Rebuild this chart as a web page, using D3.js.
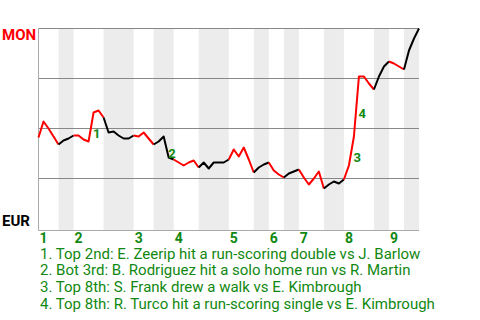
<!DOCTYPE html>
<html>
<head>
<meta charset="utf-8">
<script src="https://cdn.jsdelivr.net/npm/d3@7"></script>
<style>
  body { margin: 0; background: #fff; }
  svg { display: block; font-family: Roboto, "DejaVu Sans", sans-serif; }
</style>
</head>
<body>
<svg class="wp-chart"></svg>
<script>
// MON win probability after each play (percent), play 0 = first pitch
var winProb = [45.5, 53.5, 50, 46, 42, 44, 45, 46.5, 46.5, 44.5, 43.5, 58, 59, 55.5, 48,
  48.5, 46.5, 45, 45, 46.5, 46, 48, 45, 42, 43.5, 46, 35.5, 34.5, 33, 31.5, 33, 34,
  30.5, 33, 30, 33, 33, 33, 34.5, 39.5, 36, 40.5, 34.5, 28, 30.5, 32, 33, 29, 27,
  25.5, 27.5, 28.5, 29.5, 25.5, 22, 25, 28.5, 20, 22, 23.5, 22.5, 24.5, 31.5, 46,
  76, 76, 72.5, 69.5, 76, 81, 83.5, 82.5, 81, 79.5, 89, 95, 100];

// plays per half inning: top 1st, bot 1st, top 2nd ...
var halfInningPlays = [4, 3, 6, 6, 4, 4, 5, 6, 5, 3, 3, 3, 5, 4, 6, 3, 3, 3];
var inningLabels = ["1", "2", "3", "4", "5", "6", "7", "8", "9"];
var gridValues = [75, 50, 25];

var teamTop = "MON", teamBottom = "EUR";
var eventPlays = [11, 26, 63, 64];
var eventLabels = ["1", "2", "3", "4"];
var eventTexts = [
  "1. Top 2nd: E. Zeerip hit a run-scoring double vs J. Barlow",
  "2. Bot 3rd: B. Rodriguez hit a solo home run vs R. Martin",
  "3. Top 8th: S. Frank drew a walk vs E. Kimbrough",
  "4. Top 8th: R. Turco hit a run-scoring single vs E. Kimbrough"
];

var width = 480, height = 320;
var green = "#118811";

var svg = d3.select(".wp-chart")
  .attr("width", width)
  .attr("height", height);

var xScale = d3.scaleLinear().domain([0, winProb.length - 1]).range([38.5, 419]);
var yScale = d3.scaleLinear().domain([0, 100]).range([228.5, 28.5]);
var axisY = yScale(0) + 2;

// half inning start/end in play index
var halves = [];
var pos = 0;
halfInningPlays.forEach(function(n, i) {
  halves.push({ start: pos, end: pos + n, top: i % 2 == 0, inning: Math.floor(i / 2) });
  pos += n;
});

// shaded bottom halves
svg.selectAll(".band")
  .data(halves.filter(function(d) { return !d.top; }))
  .enter()
  .append("rect")
  .classed("band", true)
  .attr("x", function(d) { return xScale(d.start); })
  .attr("y", yScale(100))
  .attr("width", function(d) { return xScale(d.end) - xScale(d.start); })
  .attr("height", axisY - yScale(100))
  .style("fill", "#ececec");

// horizontal lines
svg.selectAll(".grid")
  .data([100].concat(gridValues))
  .enter()
  .append("line")
  .classed("grid", true)
  .attr("x1", xScale(0))
  .attr("x2", xScale.range()[1])
  .attr("y1", function(d) { return yScale(d); })
  .attr("y2", function(d) { return yScale(d); })
  .style("stroke", "#888")
  .style("stroke-width", 1);

svg.append("line")
  .attr("x1", xScale(0)).attr("x2", xScale.range()[1])
  .attr("y1", axisY).attr("y2", axisY)
  .style("stroke", "#aaa");

svg.append("line")
  .attr("x1", xScale(0)).attr("x2", xScale(0))
  .attr("y1", yScale(100)).attr("y2", axisY)
  .style("stroke", "#aaa");

// line, one path per half inning
var line = d3.line()
  .x(function(d) { return xScale(d.i); })
  .y(function(d) { return yScale(d.v); });

svg.selectAll(".wp-line")
  .data(halves)
  .enter()
  .append("path")
  .classed("wp-line", true)
  .attr("d", function(h) {
    var pts = [];
    for (var i = h.start; i <= h.end; i++) pts.push({ i: i, v: winProb[i] });
    return line(pts);
  })
  .style("fill", "none")
  .style("stroke", function(h) { return h.top ? "#ff0000" : "#000"; })
  .style("stroke-width", 2)
  .style("stroke-linejoin", "round");

// team labels
svg.append("text")
  .text(teamTop)
  .attr("x", 2).attr("y", 40)
  .style("font-size", "15px").style("font-weight", "bold")
  .style("fill", "#ff0000");

svg.append("text")
  .text(teamBottom)
  .attr("x", 2).attr("y", 226)
  .style("font-size", "15px").style("font-weight", "bold")
  .style("fill", "#000");

// inning numbers
svg.selectAll(".inning-label")
  .data(halves.filter(function(d) { return d.top; }))
  .enter()
  .append("text")
  .classed("inning-label", true)
  .text(function(d) { return inningLabels[d.inning]; })
  .attr("x", function(d) { return xScale(d.start) + 1; })
  .attr("y", 242.5)
  .style("font-size", "14px").style("font-weight", "bold")
  .style("fill", green);

// event markers at middle of the play's segment
svg.selectAll(".event-label")
  .data(eventPlays)
  .enter()
  .append("text")
  .classed("event-label", true)
  .text(function(d, i) { return eventLabels[i]; })
  .attr("x", function(d) { return (xScale(d) + xScale(d - 1)) / 2 + 2; })
  .attr("y", function(d) { return (yScale(winProb[d]) + yScale(winProb[d - 1])) / 2 + 11; })
  .style("font-size", "13px").style("font-weight", "bold")
  .style("fill", green);

// event descriptions
svg.selectAll(".event-text")
  .data(eventTexts)
  .enter()
  .append("text")
  .classed("event-text", true)
  .text(function(d) { return d; })
  .attr("x", 40)
  .attr("y", function(d, i) { return 258.5 + i * 16.7; })
  .style("font-size", "15px")
  .style("fill", green);
</script>
</body>
</html>
